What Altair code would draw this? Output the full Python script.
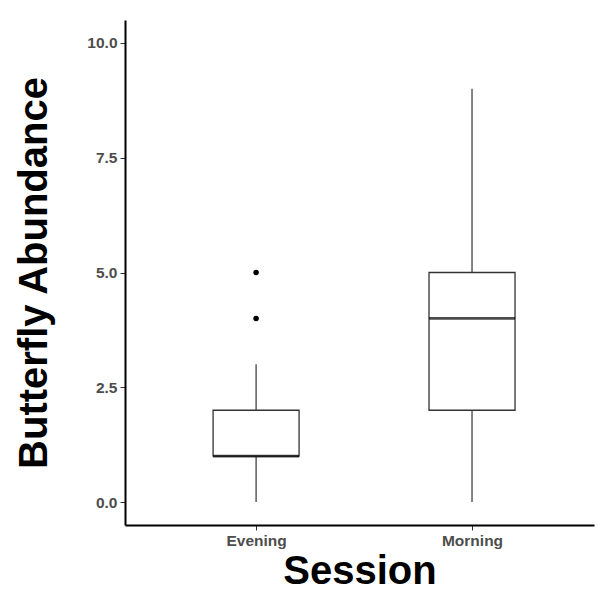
import altair as alt
import pandas as pd

sessions = ["Evening", "Morning"]
lower_whisker = [0, 0]
q1 = [1, 2]
median = [1, 4]
q3 = [2, 5]
upper_whisker = [3, 9]
outlier_session = ["Evening", "Evening"]
outlier_value = [4, 5]
y_ticks = [0, 2.5, 5, 7.5, 10]

box = pd.DataFrame({
    "Session": sessions,
    "lower": lower_whisker,
    "q1": q1,
    "median": median,
    "q3": q3,
    "upper": upper_whisker,
})
outliers = pd.DataFrame({"Session": outlier_session, "value": outlier_value})

x_enc = alt.X(
    "Session:N",
    scale=alt.Scale(type="point", padding=0.586, align=0.518),
    axis=alt.Axis(title="Session", labelAngle=0),
)
y_scale = alt.Scale(domain=[-0.5, 10.5], nice=False, zero=False)
y_axis = alt.Axis(title="Butterfly Abundance", values=y_ticks, format=".1f")

base = alt.Chart(box)

lo = base.mark_rule(color="#333333", strokeWidth=1.2).encode(
    x=x_enc,
    y=alt.Y("lower:Q", scale=y_scale, axis=y_axis),
    y2="q1:Q",
)
hi = base.mark_rule(color="#333333", strokeWidth=1.2).encode(
    x=x_enc,
    y=alt.Y("q3:Q", scale=y_scale, axis=y_axis),
    y2="upper:Q",
)
bars = base.mark_bar(
    size=86, fill="white", stroke="#333333", strokeWidth=1.3
).encode(
    x=x_enc,
    y=alt.Y("q1:Q", scale=y_scale, axis=y_axis),
    y2="q3:Q",
)
med = base.mark_tick(size=86, thickness=2.8, color="black").encode(
    x=x_enc,
    y=alt.Y("median:Q", scale=y_scale, axis=y_axis),
)
pts = alt.Chart(outliers).mark_point(
    filled=True, color="black", size=30, opacity=1
).encode(
    x=x_enc,
    y=alt.Y("value:Q", scale=y_scale, axis=y_axis),
)

chart = (
    alt.layer(lo, hi, bars, med, pts)
    .properties(
        width=469,
        height=505,
        autosize=alt.AutoSizeParams(type="none"),
        padding={"left": 117, "top": 12, "right": 1, "bottom": 64},
    )
    .configure_view(stroke=None)
    .configure_axis(
        grid=False,
        domainColor="black",
        domainWidth=2,
        tickColor="#333333",
        tickWidth=1,
        tickSize=5,
        labelFont="Liberation Sans",
        labelFontWeight="bold",
        labelFontSize=15.5,
        labelColor="#4d4d4d",
        labelPadding=3,
        titleFont="Liberation Sans",
        titleFontWeight="bold",
        titleFontSize=40,
        titleColor="black",
    )
    .configure_axisY(titlePadding=32)
    .configure_axisX(titlePadding=3)
)

chart.save("out.html", embed_options={"renderer": "svg", "actions": False})
